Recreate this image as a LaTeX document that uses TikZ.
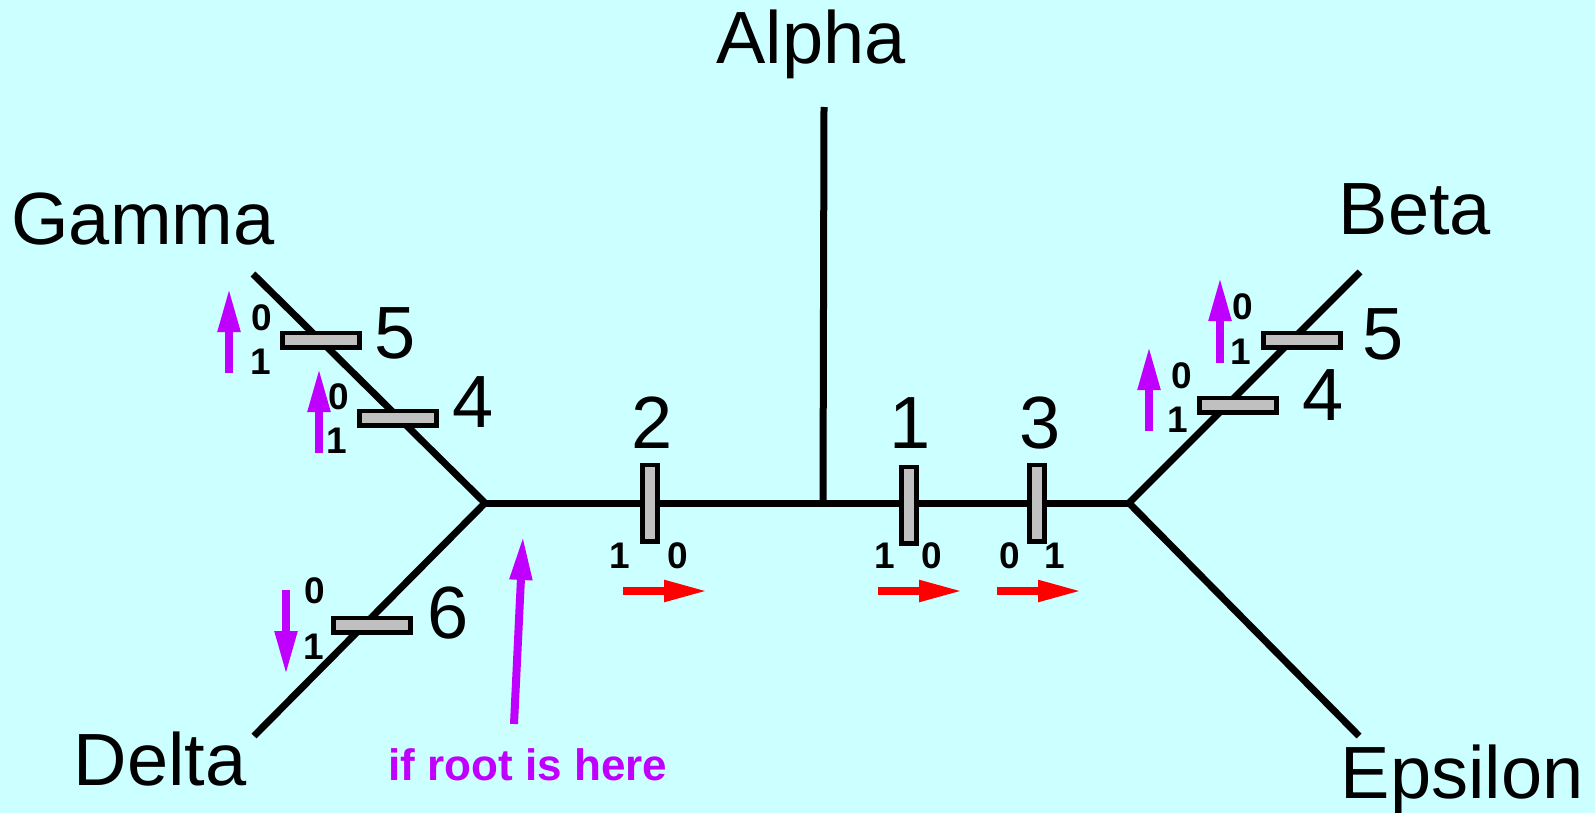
\documentclass[tikz,border=0pt]{standalone}
\usepackage{fontspec}
\setmainfont{Liberation Sans}
\usetikzlibrary{arrows.meta}
\definecolor{bgcyan}{RGB}{204,255,255}
\definecolor{barfill}{RGB}{192,192,192}
\definecolor{flippurple}{RGB}{191,0,255}

\begin{document}
\begin{tikzpicture}[x=0.5pt, y=-0.5pt,
  branch/.style={line width=3.5pt},
  hbar/.style={draw, fill=barfill, line width=2.3pt, minimum width=38.7pt, minimum height=7.2pt, inner sep=0pt},
  vbar/.style={draw, fill=barfill, line width=2.3pt, minimum width=7.7pt, minimum height=38.2pt, inner sep=0pt},
  taxon/.style={font=\fontsize{37}{44}\selectfont, anchor=base, inner sep=0pt},
  num/.style={font=\fontsize{37}{44}\selectfont, inner sep=0pt},
  state/.style={font=\fontsize{18.5}{22}\selectfont\bfseries, inner sep=0pt},
  up/.style={flippurple, line width=4pt, -{Triangle[length=22pt, width=10.5pt]}},
  fwd/.style={red, line width=4pt, -{Triangle[length=22pt, width=10pt]}}]
  \fill[bgcyan] (0,0) rectangle (1595,813);
  \useasboundingbox (0,0) rectangle (1595,813);
  % tree
  \coordinate (lj) at (485,503);
  \coordinate (rj) at (1129,503);
  \coordinate (aj) at (823,503);
  \coordinate (atop) at (824,107);
  \coordinate (gtip) at (253,274);
  \coordinate (dtip) at (254,736);
  \coordinate (btip) at (1360,272);
  \coordinate (etip) at (1359,736);
  \draw[branch] (gtip) -- (lj) -- (dtip);
  \draw[branch] (lj) -- (rj);
  \draw[branch] (aj) -- (atop);
  \draw[branch] (btip) -- (rj) -- (etip);
  \node[taxon] (alpha) at (811,64) {Alpha};
  \node[taxon] (gamma) at (143,244) {Gamma};
  \node[taxon] (beta) at (1415,234) {Beta};
  \node[taxon] (delta) at (160,785) {Delta};
  \node[taxon] (epsilon) at (1462,798) {Epsilon};
  % character changes
  \node[hbar] (g5) at (321,340) {};
  \node[hbar] (g4) at (398,418) {};
  \node[hbar] (d6) at (372,625) {};
  \node[hbar] (b5) at (1302,340) {};
  \node[hbar] (b4) at (1238,405) {};
  \node[vbar] (c2) at (650,503) {};
  \node[vbar] (c1) at (909,505) {};
  \node[vbar] (c3) at (1037,503) {};
  \node[num] at (395,333) {5};
  \node[num] at (473,402) {4};
  \node[num] at (448,613) {6};
  \node[num] at (1383,334) {5};
  \node[num] at (1323,395) {4};
  \node[num] at (652,423) {2};
  \node[num] at (910,423) {1};
  \node[num] at (1040,423) {3};
  % states
  \node[state] at (262,318) {0};
  \node[state] at (261,362) {1};
  \node[state] at (339,397) {0};
  \node[state] at (337,441) {1};
  \node[state] at (315,591) {0};
  \node[state] at (314,647) {1};
  \node[state] at (1243,307) {0};
  \node[state] at (1241,352) {1};
  \node[state] at (1182,376) {0};
  \node[state] at (1178,420) {1};
  \node[state] at (620,556) {1};
  \node[state] at (678,556) {0};
  \node[state] at (885,556) {1};
  \node[state] at (932,556) {0};
  \node[state] at (1010,556) {0};
  \node[state] at (1055,556) {1};
  % direction of change
  \draw[up] (229,373) -- ++(0,-85);
  \draw[up] (319,453) -- ++(0,-85);
  \draw[up] (286,590) -- ++(0,85);
  \draw[up] (1220,363) -- ++(0,-86);
  \draw[up] (1149,431) -- ++(0,-85);
  \draw[fwd] (623,591) -- ++(85,0);
  \draw[fwd] (878,591) -- ++(85,0);
  \draw[fwd] (997,591) -- ++(85,0);
  % root
  \node[font=\fontsize{22}{26}\selectfont\bfseries, text=flippurple] (root) at (528,765) {if root is here};
  \coordinate (rootfoot) at (514,724);
  \coordinate (roottip) at (523,536);
  \draw[up] (rootfoot) -- (roottip);
\end{tikzpicture}
\end{document}
